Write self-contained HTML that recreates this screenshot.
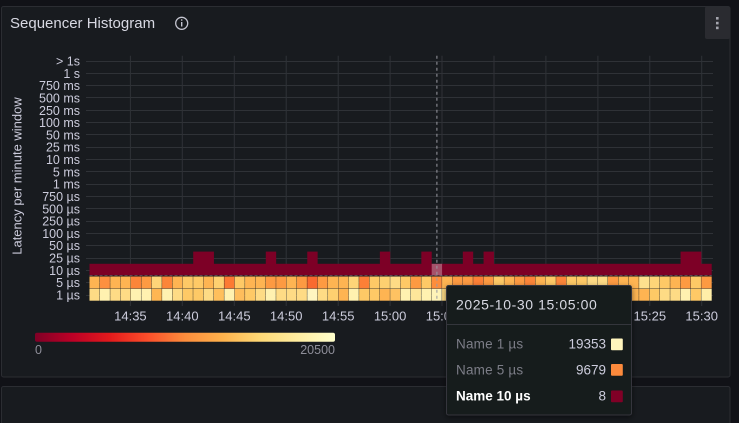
<!DOCTYPE html>
<html><head><meta charset="utf-8"><style>
html,body{margin:0;padding:0;background:#111217;width:739px;height:423px;overflow:hidden;}
svg{display:block;}
text{font-family:"Liberation Sans",sans-serif;}
</style></head><body>
<svg width="739" height="423" viewBox="0 0 739 423" xmlns="http://www.w3.org/2000/svg">
<rect width="739" height="423" fill="#111217"/>
<!-- panel -->
<rect x="1.5" y="6.5" width="728.5" height="370.5" rx="2" fill="#181b1f" stroke="#2b2d32" stroke-width="1"/>
<rect x="1.5" y="386.5" width="728.5" height="40" rx="2" fill="#181b1f" stroke="#2b2d32" stroke-width="1"/>
<!-- title -->
<text x="10" y="28" font-size="15" fill="#d8d9e3">Sequencer Histogram</text>
<circle cx="181.7" cy="23.3" r="6" fill="none" stroke="#c4c5d0" stroke-width="1.3"/>
<rect x="181" y="22" width="1.4" height="4.5" fill="#c4c5d0"/>
<rect x="181" y="19.3" width="1.4" height="1.4" fill="#c4c5d0"/>
<!-- menu -->
<rect x="705" y="6.5" width="25" height="32.5" rx="2" fill="#2a2b30"/>
<rect x="716" y="17" width="2.6" height="2.6" fill="#a5a6ae"/>
<rect x="716" y="21.8" width="2.6" height="2.6" fill="#a5a6ae"/>
<rect x="716" y="26.6" width="2.6" height="2.6" fill="#a5a6ae"/>

<!-- grid -->
<g stroke="#2f3237" stroke-width="1">
<line x1="86" x2="713" y1="61.5" y2="61.5"/>
<line x1="86" x2="713" y1="73.5" y2="73.5"/>
<line x1="86" x2="713" y1="85.5" y2="85.5"/>
<line x1="86" x2="713" y1="97.5" y2="97.5"/>
<line x1="86" x2="713" y1="110.5" y2="110.5"/>
<line x1="86" x2="713" y1="122.5" y2="122.5"/>
<line x1="86" x2="713" y1="134.5" y2="134.5"/>
<line x1="86" x2="713" y1="147.5" y2="147.5"/>
<line x1="86" x2="713" y1="159.5" y2="159.5"/>
<line x1="86" x2="713" y1="171.5" y2="171.5"/>
<line x1="86" x2="713" y1="184.5" y2="184.5"/>
<line x1="86" x2="713" y1="196.5" y2="196.5"/>
<line x1="86" x2="713" y1="208.5" y2="208.5"/>
<line x1="86" x2="713" y1="221.5" y2="221.5"/>
<line x1="86" x2="713" y1="233.5" y2="233.5"/>
<line x1="86" x2="713" y1="245.5" y2="245.5"/>
<line x1="86" x2="713" y1="258.5" y2="258.5"/>
<line x1="86" x2="713" y1="270.5" y2="270.5"/>
<line x1="86" x2="713" y1="282.5" y2="282.5"/>
<line x1="86" x2="713" y1="295.5" y2="295.5"/>
<line x1="130.4" x2="130.4" y1="55.7" y2="306"/>
<line x1="182.3" x2="182.3" y1="55.7" y2="306"/>
<line x1="234.3" x2="234.3" y1="55.7" y2="306"/>
<line x1="286.2" x2="286.2" y1="55.7" y2="306"/>
<line x1="338.2" x2="338.2" y1="55.7" y2="306"/>
<line x1="390.1" x2="390.1" y1="55.7" y2="306"/>
<line x1="442.0" x2="442.0" y1="55.7" y2="306"/>
<line x1="494.0" x2="494.0" y1="55.7" y2="306"/>
<line x1="545.9" x2="545.9" y1="55.7" y2="306"/>
<line x1="597.9" x2="597.9" y1="55.7" y2="306"/>
<line x1="649.8" x2="649.8" y1="55.7" y2="306"/>
<line x1="701.7" x2="701.7" y1="55.7" y2="306"/>
</g>

<!-- y labels -->
<g font-size="12.5" fill="#ccccdc" text-anchor="end">
<text x="80" y="65.5">&gt; 1s</text>
<text x="80" y="77.8">1 s</text>
<text x="80" y="90.1">750 ms</text>
<text x="80" y="102.4">500 ms</text>
<text x="80" y="114.8">250 ms</text>
<text x="80" y="127.1">100 ms</text>
<text x="80" y="139.4">50 ms</text>
<text x="80" y="151.7">25 ms</text>
<text x="80" y="164.0">10 ms</text>
<text x="80" y="176.3">5 ms</text>
<text x="80" y="188.7">1 ms</text>
<text x="80" y="201.0">750 µs</text>
<text x="80" y="213.3">500 µs</text>
<text x="80" y="225.6">250 µs</text>
<text x="80" y="237.9">100 µs</text>
<text x="80" y="250.2">50 µs</text>
<text x="80" y="262.6">25 µs</text>
<text x="80" y="274.9">10 µs</text>
<text x="80" y="287.2">5 µs</text>
<text x="80" y="299.5">1 µs</text>
</g>
<text transform="translate(21.5,176) rotate(-90)" text-anchor="middle" font-size="13" fill="#ccccdc">Latency per minute window</text>

<!-- x labels -->
<g font-size="13" fill="#ccccdc" text-anchor="middle">
<text x="130.4" y="320.5">14:35</text>
<text x="182.3" y="320.5">14:40</text>
<text x="234.3" y="320.5">14:45</text>
<text x="286.2" y="320.5">14:50</text>
<text x="338.2" y="320.5">14:55</text>
<text x="390.1" y="320.5">15:00</text>
<text x="442.0" y="320.5">15:05</text>
<text x="494.0" y="320.5">15:10</text>
<text x="545.9" y="320.5">15:15</text>
<text x="597.9" y="320.5">15:20</text>
<text x="649.8" y="320.5">15:25</text>
<text x="701.7" y="320.5">15:30</text>
</g>

<!-- 10us row -->
<rect x="89.5" y="263.8" width="622.2" height="11.6" fill="#7d0026"/>
<!-- 25us bumps -->
<g fill="#7d0026">
<rect x="193.2" y="251.6" width="20.74" height="12.5"/>
<rect x="265.79" y="251.6" width="10.37" height="12.5"/>
<rect x="307.27" y="251.6" width="10.37" height="12.5"/>
<rect x="379.86" y="251.6" width="10.37" height="12.5"/>
<rect x="421.34" y="251.6" width="10.37" height="12.5"/>
<rect x="462.82" y="251.6" width="10.37" height="12.5"/>
<rect x="483.56" y="251.6" width="10.37" height="12.5"/>
<rect x="680.59" y="251.6" width="20.74" height="12.5"/>
</g>
<line x1="89.5" x2="711.7" y1="275.4" y2="275.4" stroke="#6e5a62" stroke-width="0.8" stroke-dasharray="3 2"/>

<!-- 5us row -->
<g>
<rect x="89.5" y="276.5" width="10" height="11.9" fill="#feb452"/>
<rect x="99.87" y="276.5" width="10" height="11.9" fill="#fd9040"/>
<rect x="110.24" y="276.5" width="10" height="11.9" fill="#feb452"/>
<rect x="120.61" y="276.5" width="10" height="11.9" fill="#feb452"/>
<rect x="130.98" y="276.5" width="10" height="11.9" fill="#fc8539"/>
<rect x="141.35" y="276.5" width="10" height="11.9" fill="#fd9a42"/>
<rect x="151.72" y="276.5" width="10" height="11.9" fill="#fed578"/>
<rect x="162.09" y="276.5" width="10" height="11.9" fill="#fc8539"/>
<rect x="172.46" y="276.5" width="10" height="11.9" fill="#feb452"/>
<rect x="182.83" y="276.5" width="10" height="11.9" fill="#fec966"/>
<rect x="193.20" y="276.5" width="10" height="11.9" fill="#fec966"/>
<rect x="203.57" y="276.5" width="10" height="11.9" fill="#feb452"/>
<rect x="213.94" y="276.5" width="10" height="11.9" fill="#fed070"/>
<rect x="224.31" y="276.5" width="10" height="11.9" fill="#fc7a33"/>
<rect x="234.68" y="276.5" width="10" height="11.9" fill="#fec966"/>
<rect x="245.05" y="276.5" width="10" height="11.9" fill="#feb452"/>
<rect x="255.42" y="276.5" width="10" height="11.9" fill="#feb452"/>
<rect x="265.79" y="276.5" width="10" height="11.9" fill="#fd9a42"/>
<rect x="276.16" y="276.5" width="10" height="11.9" fill="#fd9a42"/>
<rect x="286.53" y="276.5" width="10" height="11.9" fill="#feb452"/>
<rect x="296.90" y="276.5" width="10" height="11.9" fill="#fd9a42"/>
<rect x="307.27" y="276.5" width="10" height="11.9" fill="#f96a2f"/>
<rect x="317.64" y="276.5" width="10" height="11.9" fill="#fd9a42"/>
<rect x="328.01" y="276.5" width="10" height="11.9" fill="#feb452"/>
<rect x="338.38" y="276.5" width="10" height="11.9" fill="#feb452"/>
<rect x="348.75" y="276.5" width="10" height="11.9" fill="#fed578"/>
<rect x="359.12" y="276.5" width="10" height="11.9" fill="#fc7f36"/>
<rect x="369.49" y="276.5" width="10" height="11.9" fill="#fec966"/>
<rect x="379.86" y="276.5" width="10" height="11.9" fill="#fed070"/>
<rect x="390.23" y="276.5" width="10" height="11.9" fill="#fedb85"/>
<rect x="400.60" y="276.5" width="10" height="11.9" fill="#fec966"/>
<rect x="410.97" y="276.5" width="10" height="11.9" fill="#fd9a42"/>
<rect x="421.34" y="276.5" width="10" height="11.9" fill="#fec966"/>
<rect x="431.71" y="276.5" width="10" height="11.9" fill="#fd8d3c"/>
<rect x="442.08" y="276.5" width="10" height="11.9" fill="#feb452"/>
<rect x="452.45" y="276.5" width="10" height="11.9" fill="#fd9a42"/>
<rect x="462.82" y="276.5" width="10" height="11.9" fill="#fd9a42"/>
<rect x="473.19" y="276.5" width="10" height="11.9" fill="#fc8036"/>
<rect x="483.56" y="276.5" width="10" height="11.9" fill="#fd9a42"/>
<rect x="493.93" y="276.5" width="10" height="11.9" fill="#fec966"/>
<rect x="504.30" y="276.5" width="10" height="11.9" fill="#feb452"/>
<rect x="514.67" y="276.5" width="10" height="11.9" fill="#fd9a42"/>
<rect x="525.04" y="276.5" width="10" height="11.9" fill="#fc8539"/>
<rect x="535.41" y="276.5" width="10" height="11.9" fill="#feb452"/>
<rect x="545.78" y="276.5" width="10" height="11.9" fill="#fec966"/>
<rect x="556.15" y="276.5" width="10" height="11.9" fill="#fc8539"/>
<rect x="566.52" y="276.5" width="10" height="11.9" fill="#fec966"/>
<rect x="576.89" y="276.5" width="10" height="11.9" fill="#fec966"/>
<rect x="587.26" y="276.5" width="10" height="11.9" fill="#fedb85"/>
<rect x="597.63" y="276.5" width="10" height="11.9" fill="#fedb85"/>
<rect x="608.00" y="276.5" width="10" height="11.9" fill="#fd9a42"/>
<rect x="618.37" y="276.5" width="10" height="11.9" fill="#feb452"/>
<rect x="628.74" y="276.5" width="10" height="11.9" fill="#feb452"/>
<rect x="639.11" y="276.5" width="10" height="11.9" fill="#fee08e"/>
<rect x="649.48" y="276.5" width="10" height="11.9" fill="#fed578"/>
<rect x="659.85" y="276.5" width="10" height="11.9" fill="#fec966"/>
<rect x="670.22" y="276.5" width="10" height="11.9" fill="#feb452"/>
<rect x="680.59" y="276.5" width="10" height="11.9" fill="#fd9a42"/>
<rect x="690.96" y="276.5" width="10" height="11.9" fill="#fec966"/>
<rect x="701.33" y="276.5" width="10.37" height="11.9" fill="#fd9a42"/>
</g>

<!-- 1us row -->
<g>
<rect x="89.5" y="288.8" width="10" height="11.9" fill="#fedb85"/>
<rect x="99.87" y="288.8" width="10" height="11.9" fill="#fff1b0"/>
<rect x="110.24" y="288.8" width="10" height="11.9" fill="#fedb85"/>
<rect x="120.61" y="288.8" width="10" height="11.9" fill="#fedb85"/>
<rect x="130.98" y="288.8" width="10" height="11.9" fill="#fff1b0"/>
<rect x="141.35" y="288.8" width="10" height="11.9" fill="#fff1b0"/>
<rect x="151.72" y="288.8" width="10" height="11.9" fill="#feb652"/>
<rect x="162.09" y="288.8" width="10" height="11.9" fill="#fff1b0"/>
<rect x="172.46" y="288.8" width="10" height="11.9" fill="#fedb85"/>
<rect x="182.83" y="288.8" width="10" height="11.9" fill="#fec966"/>
<rect x="193.20" y="288.8" width="10" height="11.9" fill="#fec966"/>
<rect x="203.57" y="288.8" width="10" height="11.9" fill="#fedb85"/>
<rect x="213.94" y="288.8" width="10" height="11.9" fill="#febf5c"/>
<rect x="224.31" y="288.8" width="10" height="11.9" fill="#fff1b0"/>
<rect x="234.68" y="288.8" width="10" height="11.9" fill="#febd5c"/>
<rect x="245.05" y="288.8" width="10" height="11.9" fill="#fec966"/>
<rect x="255.42" y="288.8" width="10" height="11.9" fill="#fedb85"/>
<rect x="265.79" y="288.8" width="10" height="11.9" fill="#fff1b0"/>
<rect x="276.16" y="288.8" width="10" height="11.9" fill="#fedb85"/>
<rect x="286.53" y="288.8" width="10" height="11.9" fill="#fedb85"/>
<rect x="296.90" y="288.8" width="10" height="11.9" fill="#fedb85"/>
<rect x="307.27" y="288.8" width="10" height="11.9" fill="#fff5c0"/>
<rect x="317.64" y="288.8" width="10" height="11.9" fill="#fedb85"/>
<rect x="328.01" y="288.8" width="10" height="11.9" fill="#fed070"/>
<rect x="338.38" y="288.8" width="10" height="11.9" fill="#feb452"/>
<rect x="348.75" y="288.8" width="10" height="11.9" fill="#fff1b0"/>
<rect x="359.12" y="288.8" width="10" height="11.9" fill="#fec966"/>
<rect x="369.49" y="288.8" width="10" height="11.9" fill="#fec966"/>
<rect x="379.86" y="288.8" width="10" height="11.9" fill="#feb452"/>
<rect x="390.23" y="288.8" width="10" height="11.9" fill="#fec262"/>
<rect x="400.60" y="288.8" width="10" height="11.9" fill="#fff1b0"/>
<rect x="410.97" y="288.8" width="10" height="11.9" fill="#fee69a"/>
<rect x="421.34" y="288.8" width="10" height="11.9" fill="#fff1b0"/>
<rect x="431.71" y="288.8" width="10" height="11.9" fill="#fff3b8"/>
<rect x="442.08" y="288.8" width="10" height="11.9" fill="#fedb85"/>
<rect x="452.45" y="288.8" width="180" height="11.9" fill="#fedb85"/>
<rect x="628.74" y="288.8" width="10" height="11.9" fill="#feb452"/>
<rect x="639.11" y="288.8" width="10" height="11.9" fill="#feb452"/>
<rect x="649.48" y="288.8" width="10" height="11.9" fill="#fec966"/>
<rect x="659.85" y="288.8" width="10" height="11.9" fill="#fedb85"/>
<rect x="670.22" y="288.8" width="10" height="11.9" fill="#fedb85"/>
<rect x="680.59" y="288.8" width="10" height="11.9" fill="#fff1b0"/>
<rect x="690.96" y="288.8" width="10" height="11.9" fill="#fec966"/>
<rect x="701.33" y="288.8" width="10.37" height="11.9" fill="#ffeea8"/>
</g>

<!-- hover highlight -->
<rect x="431.71" y="263.8" width="10.37" height="11.6" fill="#ffffff" fill-opacity="0.32"/>
<line x1="436.9" x2="436.9" y1="55.7" y2="301" stroke="#9a9aa2" stroke-width="1" stroke-dasharray="3 3"/>

<!-- legend -->
<defs>
<linearGradient id="lg" x1="0" x2="1" y1="0" y2="0">
<stop offset="0" stop-color="#800026"/>
<stop offset="0.125" stop-color="#bd0026"/>
<stop offset="0.25" stop-color="#e31a1c"/>
<stop offset="0.375" stop-color="#fc4e2a"/>
<stop offset="0.5" stop-color="#fd8d3c"/>
<stop offset="0.625" stop-color="#feb24c"/>
<stop offset="0.75" stop-color="#fed976"/>
<stop offset="0.875" stop-color="#ffeda0"/>
<stop offset="1" stop-color="#ffffcc"/>
</linearGradient>
<filter id="sh" x="-10%" y="-10%" width="120%" height="115%">
<feDropShadow dx="0" dy="2" stdDeviation="3" flood-color="#000" flood-opacity="0.5"/>
</filter>
</defs>
<rect x="35" y="332.7" width="300" height="9" rx="2" fill="url(#lg)"/>
<text x="35" y="354" font-size="12.5" fill="#8e8e99">0</text>
<text x="335" y="354" font-size="12.5" fill="#8e8e99" text-anchor="end">20500</text>

<!-- tooltip -->
<rect x="446.5" y="285.5" width="185" height="129.5" rx="2" fill="#181b1f" stroke="#34363c" stroke-width="1" filter="url(#sh)"/>
<text x="456" y="309.5" font-size="14" letter-spacing="0.6" fill="#d8d9e3">2025-10-30 15:05:00</text>
<line x1="447" x2="631" y1="324.5" y2="324.5" stroke="#34363c" stroke-width="1"/>
<text x="456" y="348.7" font-size="13.5" letter-spacing="0.2" fill="#7c7d87">Name 1 µs</text>
<text x="606" y="348.7" font-size="13.5" fill="#ccccdc" text-anchor="end">19353</text>
<rect x="611" y="338.5" width="11.8" height="11.8" rx="1" fill="#fff5bc"/>
<text x="456" y="374.5" font-size="13.5" letter-spacing="0.2" fill="#7c7d87">Name 5 µs</text>
<text x="606" y="374.5" font-size="13.5" fill="#ccccdc" text-anchor="end">9679</text>
<rect x="611" y="364" width="11.8" height="11.8" rx="1" fill="#fc8a3c"/>
<text x="456" y="400.3" font-size="13.5" font-weight="bold" fill="#ffffff">Name 10 µs</text>
<text x="606" y="400.3" font-size="13.5" fill="#ccccdc" text-anchor="end">8</text>
<rect x="611" y="390.5" width="11.8" height="11.8" rx="1" fill="#800026"/>
</svg>
</body></html>
